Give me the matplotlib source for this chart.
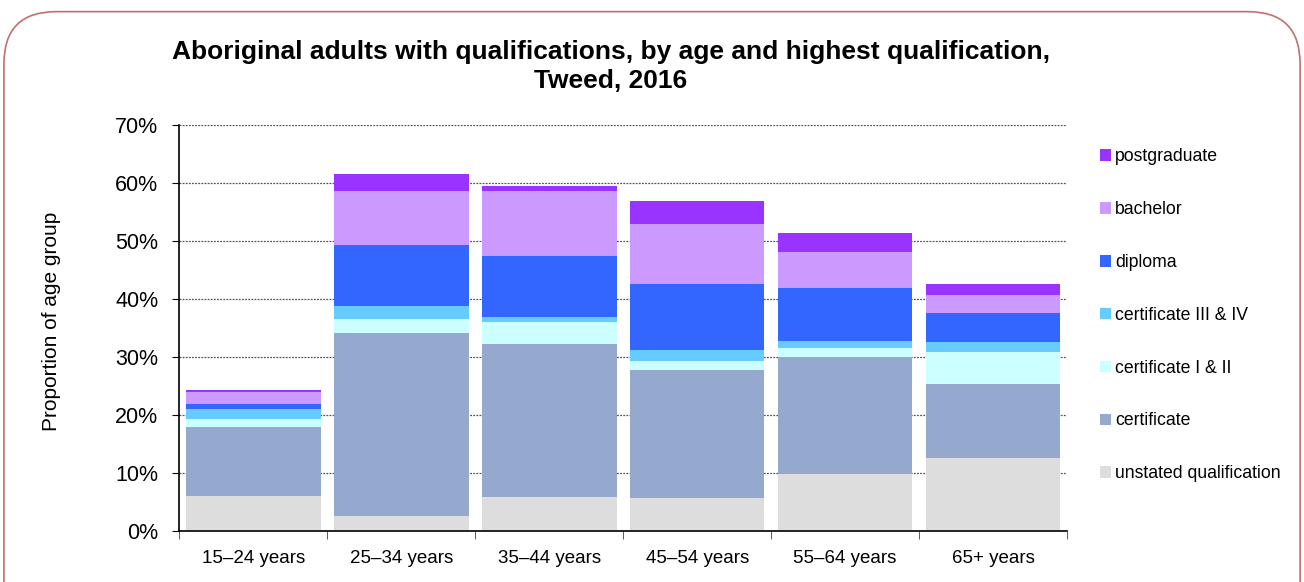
import matplotlib.pyplot as plt
from matplotlib.patches import FancyBboxPatch, Patch
import numpy as np

plt.rcParams['font.family'] = ['Liberation Sans', 'DejaVu Sans']

age_groups = ["15–24 years", "25–34 years", "35–44 years",
              "45–54 years", "55–64 years", "65+ years"]

# per cent of each age group, bottom of the stack first
unstated = [6.1, 2.65, 5.85, 5.7, 9.9, 12.65]
certificate = [11.9, 31.45, 26.4, 22.1, 20.1, 12.65]
cert_1_2 = [1.25, 2.45, 3.75, 1.5, 1.6, 5.5]
cert_3_4 = [1.75, 2.25, 0.8, 1.95, 1.1, 1.7]
diploma = [0.95, 10.4, 10.5, 11.25, 9.1, 5.1]
bachelor = [2.05, 9.4, 11.3, 10.4, 6.2, 3.0]
postgraduate = [0.35, 2.95, 0.9, 4.0, 3.4, 2.0]

series = [
    ("unstated qualification", unstated, "#DDDDDD"),
    ("certificate", certificate, "#95A9CF"),
    ("certificate I & II", cert_1_2, "#CCFFFF"),
    ("certificate III & IV", cert_3_4, "#66CCFF"),
    ("diploma", diploma, "#3366FF"),
    ("bachelor", bachelor, "#CC99FF"),
    ("postgraduate", postgraduate, "#9933FF"),
]

fig = plt.figure(figsize=(13.04, 5.82), dpi=100)

# rounded frame round the whole chart
frame = FancyBboxPatch((0.003, -0.2), 0.994, 1.18,
                       boxstyle="round,pad=0,rounding_size=0.04",
                       transform=fig.transFigure, facecolor="none",
                       edgecolor="#C07070", linewidth=1.2,
                       mutation_aspect=1304 / 582)
fig.patches.append(frame)

ax = fig.add_axes([0.1375, 0.0876, 0.6808, 0.6981])

x = np.arange(len(age_groups))
bottom = np.zeros(len(age_groups))
handles = []
for name, vals, col in series:
    ax.bar(x, vals, width=0.91, bottom=bottom, color=col, zorder=2)
    bottom += np.array(vals)
    handles.append(Patch(facecolor=col, label=name))

ax.set_xlim(-0.5, len(age_groups) - 0.5)
ax.set_ylim(0, 70)
ax.set_yticks(range(0, 71, 10))
ax.set_yticklabels([f"{v}%" for v in range(0, 71, 10)], fontsize=15.5)
ax.yaxis.grid(True, linestyle=(0, (1.5, 1)), color="#555555", linewidth=0.9, zorder=0)
ax.set_axisbelow(True)

ax.set_xticks(x)
ax.set_xticklabels(age_groups, fontsize=13.5)
ax.tick_params(axis="x", length=0, pad=14)
ax.set_xticks(np.arange(-0.5, len(age_groups) + 0.5, 1), minor=True)
ax.tick_params(axis="x", which="minor", length=6, direction="out", color="#444444")
ax.tick_params(axis="y", length=5, direction="out", pad=10)

for side in ["top", "right"]:
    ax.spines[side].set_visible(False)
ax.spines["left"].set_linewidth(1.2)
ax.spines["bottom"].set_linewidth(1.2)

ax.set_ylabel("Proportion of age group", fontsize=15)
ax.yaxis.set_label_coords(-0.133, 0.516)

fig.text(0.4686, 0.8986, "Aboriginal adults with qualifications, by age and highest qualification,",
         ha="center", va="baseline", fontsize=19, fontweight="bold")
fig.text(0.4686, 0.8488, "Tweed, 2016",
         ha="center", va="baseline", fontsize=19, fontweight="bold")

ax.legend(handles=handles[::-1], loc="upper left",
          bbox_to_anchor=(0.8436, 0.7450), bbox_transform=fig.transFigure,
          frameon=False, fontsize=12.7, handlelength=0.62, handleheight=0.62,
          handletextpad=0.22, labelspacing=2.03, borderpad=0, borderaxespad=0)

fig.savefig("out.png", dpi=100)
